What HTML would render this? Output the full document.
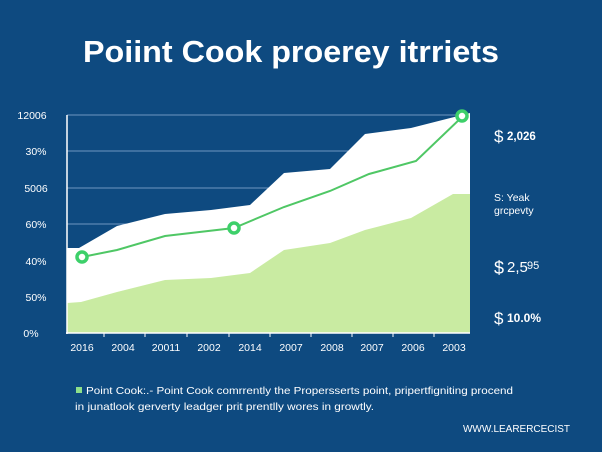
<!DOCTYPE html>
<html><head><meta charset="utf-8"><style>
html,body{margin:0;padding:0;background:#0e4a80;}
svg{display:block;}
text{font-family:"Liberation Sans",sans-serif;}
</style></head><body>
<svg width="602" height="452" viewBox="0 0 602 452" xmlns="http://www.w3.org/2000/svg">
<rect width="602" height="452" fill="#0e4a80"/>
<text x="291" y="62" fill="#fff" font-size="31" font-weight="bold" text-anchor="middle" textLength="416" lengthAdjust="spacingAndGlyphs">Poiint Cook proerey itrriets</text>
<g stroke="#6f95c0" stroke-width="1">
<line x1="67" y1="115" x2="470" y2="115"/><line x1="67" y1="151" x2="470" y2="151"/>
<line x1="67" y1="188" x2="470" y2="188"/><line x1="67" y1="224" x2="470" y2="224"/>
<line x1="67" y1="261" x2="470" y2="261"/><line x1="67" y1="297" x2="470" y2="297"/>
</g>
<polygon fill="#ffffff" points="67,248 79,248 117,226 165,214 211,210 250,205 284,173 330,169 365,134 411,128 470,113 470,333 67,333"/>
<polygon fill="#c9eba2" points="67,303 81,302 117,292 165,280 211,278 250,273 284,250 330,243 365,230 411,218 453,194 470,194 470,333 67,333"/>
<polyline fill="none" stroke="#4fc765" stroke-width="2" points="82,257 117,250 165,236 234,228 284,207 330,191 369,174 416,161 463,116"/>
<g fill="#fff" stroke="#3dd06a" stroke-width="3.5">
<circle cx="82" cy="257" r="5"/><circle cx="234" cy="228" r="5"/><circle cx="462" cy="116" r="5"/>
</g>
<line x1="67" y1="115" x2="67" y2="334" stroke="#fff" stroke-width="1.5"/>
<line x1="66" y1="333" x2="470" y2="333" stroke="#fff" stroke-width="1.5"/>
<g stroke="#fff" stroke-width="1">
<line x1="104" y1="333" x2="104" y2="337"/><line x1="145" y1="333" x2="145" y2="337"/><line x1="187" y1="333" x2="187" y2="337"/><line x1="229" y1="333" x2="229" y2="337"/><line x1="270" y1="333" x2="270" y2="337"/><line x1="311" y1="333" x2="311" y2="337"/><line x1="352" y1="333" x2="352" y2="337"/><line x1="393" y1="333" x2="393" y2="337"/><line x1="434" y1="333" x2="434" y2="337"/>
</g>
<g fill="#fff" font-size="10.5">
<text x="32" y="119" text-anchor="middle">12006</text>
<text x="36" y="155" text-anchor="middle">30%</text>
<text x="36" y="192" text-anchor="middle">5006</text>
<text x="36" y="228" text-anchor="middle">60%</text>
<text x="36" y="265" text-anchor="middle">40%</text>
<text x="36" y="301" text-anchor="middle">50%</text>
<text x="31" y="337" text-anchor="middle">0%</text>
</g>
<g fill="#fff" font-size="10.5" text-anchor="middle">
<text x="82" y="351">2016</text><text x="123" y="351">2004</text><text x="166" y="351">20011</text><text x="209" y="351">2002</text><text x="250" y="351">2014</text><text x="291" y="351">2007</text><text x="332" y="351">2008</text><text x="372" y="351">2007</text><text x="413" y="351">2006</text><text x="454" y="351">2003</text>
</g>
<g fill="#fff">
<text x="494" y="142" font-size="17">$</text><text x="507" y="140" font-size="11.5" font-weight="bold">2,026</text>
<text x="494" y="201" font-size="10.5">S: Yeak</text>
<text x="494" y="214" font-size="10.5">grcpevty</text>
<text x="494" y="274" font-size="18">$</text><text x="507" y="272" font-size="15">2,5</text><text x="527" y="269" font-size="11">95</text>
<text x="494" y="324" font-size="17">$</text><text x="507" y="322" font-size="12" font-weight="bold">10.0%</text>
</g>
<rect x="76" y="387" width="6" height="6" fill="#8ee08a"/>
<text x="86" y="394" fill="#fff" font-size="10.5" textLength="427" lengthAdjust="spacingAndGlyphs">Point Cook:.- Point Cook comrrently the Propersserts point, pripertfigniting procend</text>
<text x="75" y="410" fill="#fff" font-size="10.5" textLength="299" lengthAdjust="spacingAndGlyphs">in junatlook gerverty leadger prit prentlly wores in growtly.</text>
<text x="463" y="432" fill="#fff" font-size="10" textLength="107" lengthAdjust="spacingAndGlyphs">WWW.LEARERCECIST</text>
</svg>
</body></html>
